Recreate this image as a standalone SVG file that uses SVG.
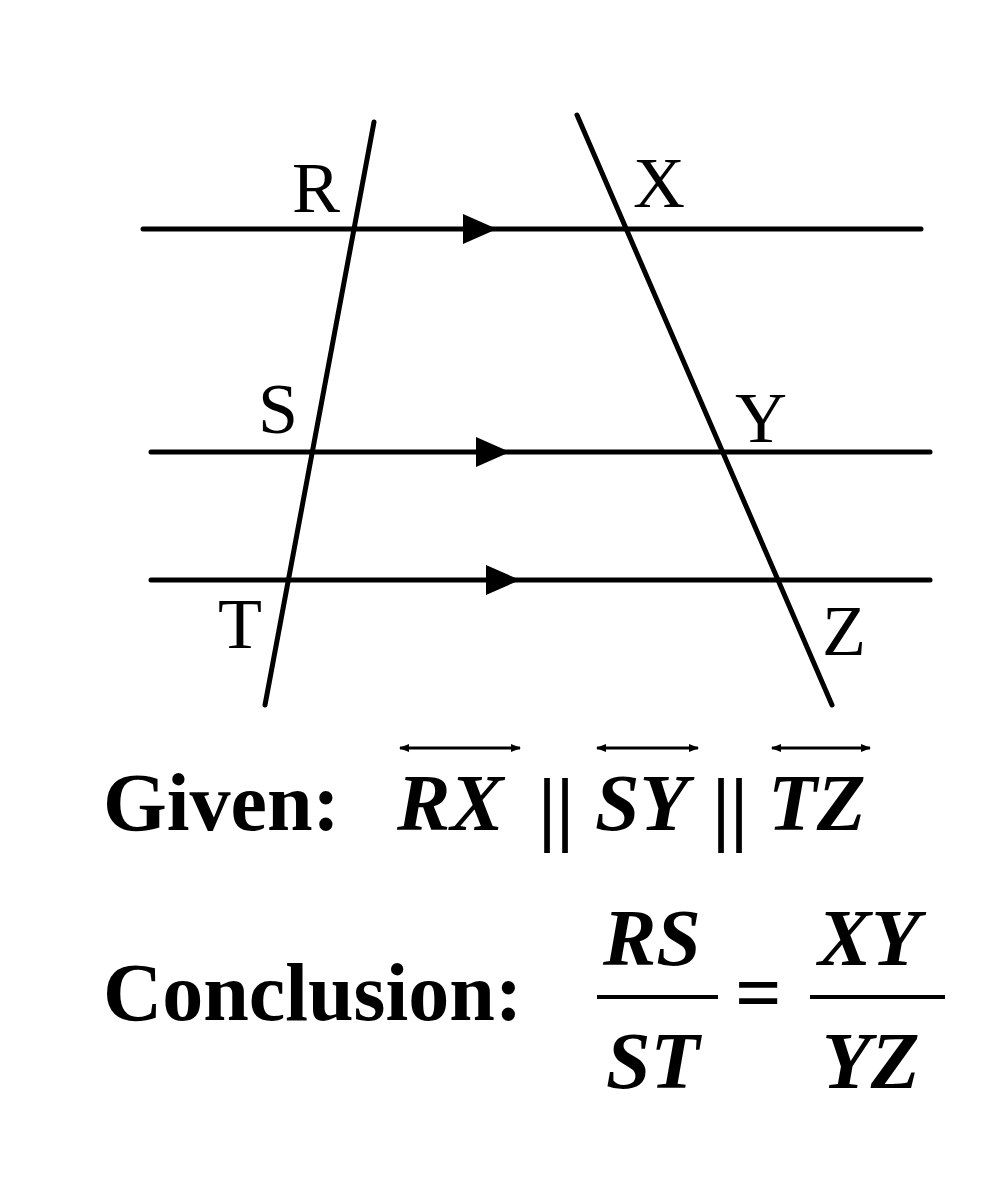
<svg xmlns="http://www.w3.org/2000/svg" width="988" height="1200" viewBox="0 0 988 1200">
<style>
.l{stroke:#000;stroke-width:5;fill:none;stroke-linecap:round}
.lb{font-family:"Liberation Serif",serif;font-size:72px}
.b{font-family:"Liberation Serif",serif;font-size:82px;font-weight:bold}
.i{font-family:"Liberation Serif",serif;font-size:80px;font-weight:bold;font-style:italic}
.t{stroke:#000;stroke-width:3}
</style>
<defs>
<marker id="a" markerWidth="10" markerHeight="8" refX="9" refY="4" orient="auto" markerUnits="userSpaceOnUse"><path d="M0,0L10,4L0,8Z"/></marker>
<marker id="s" markerWidth="10" markerHeight="8" refX="1" refY="4" orient="auto" markerUnits="userSpaceOnUse"><path d="M10,0L0,4L10,8Z"/></marker>
</defs>
<rect width="988" height="1200" fill="#fff"/>
<g id="connectors">
<line class="l" x1="143" y1="229" x2="921" y2="229"/>
<line class="l" x1="151" y1="452" x2="930" y2="452"/>
<line class="l" x1="151" y1="580" x2="930" y2="580"/>
<line class="l" x1="374" y1="122" x2="265" y2="705"/>
<line class="l" x1="577" y1="115" x2="832" y2="705"/>
<path d="M463,214L497,229L463,244Z"/>
<path d="M476,437L510,452L476,467Z"/>
<path d="M486,565L520,580L486,595Z"/>
</g>
<g id="R"><text class="lb" x="292" y="212">R</text></g>
<g id="X"><text class="lb" x="633" y="207">X</text></g>
<g id="S"><text class="lb" x="258" y="433">S</text></g>
<g id="Y"><text class="lb" x="735" y="442">Y</text></g>
<g id="T"><text class="lb" x="218" y="648">T</text></g>
<g id="Z"><text class="lb" x="822" y="655">Z</text></g>
<g id="given">
<text class="b" x="103" y="830">Given:</text>
<text class="i" x="397" y="830">RX</text>
<text class="b" x="538" y="835">||</text>
<text class="i" x="595" y="830">SY</text>
<text class="b" x="712" y="835">||</text>
<text class="i" x="768" y="830">TZ</text>
<line class="t" x1="400" y1="748" x2="520" y2="748" marker-start="url(#s)" marker-end="url(#a)"/>
<line class="t" x1="597" y1="748" x2="698" y2="748" marker-start="url(#s)" marker-end="url(#a)"/>
<line class="t" x1="772" y1="748" x2="870" y2="748" marker-start="url(#s)" marker-end="url(#a)"/>
</g>
<g id="conclusion">
<text class="b" x="103" y="1020">Conclusion:</text>
<text class="i" x="603" y="965">RS</text>
<line x1="597" y1="997" x2="718" y2="997" stroke="#000" stroke-width="4"/>
<text class="i" x="606" y="1088">ST</text>
<text class="b" x="735" y="1020">=</text>
<text class="i" x="818" y="965">XY</text>
<line x1="810" y1="997" x2="945" y2="997" stroke="#000" stroke-width="4"/>
<text class="i" x="822" y="1088">YZ</text>
</g>
</svg>
